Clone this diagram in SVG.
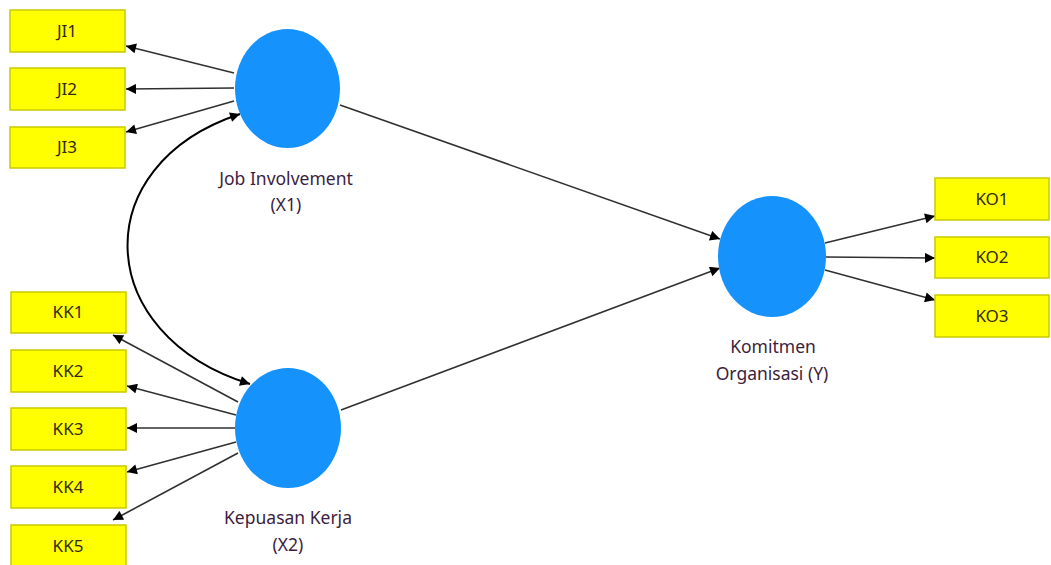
<svg xmlns="http://www.w3.org/2000/svg" width="1051" height="565" viewBox="0 0 1051 565">
<style>
.box{fill:#ffff00;stroke:#c9c900;stroke-width:1.5}
.bt{font-family:"Noto Sans","DejaVu Sans",sans-serif;font-size:17px;fill:#332a10;text-anchor:middle}
.lv{fill:#1592fc}
.lt{font-family:"Noto Sans","DejaVu Sans",sans-serif;font-size:17.5px;fill:#3c1e3e;text-anchor:middle}
.c{stroke:#303030;stroke-width:1.6;fill:none;marker-end:url(#a)}
.cv{stroke:#000;stroke-width:2;fill:none;marker-end:url(#a);marker-start:url(#s)}
</style>
<defs>
<marker id="a" viewBox="0 0 10 10" refX="10" refY="5" markerWidth="12" markerHeight="10" markerUnits="userSpaceOnUse" orient="auto"><path d="M0,0 L10,5 L0,10 z" fill="#000"/></marker>
<marker id="s" viewBox="0 0 10 10" refX="10" refY="5" markerWidth="12" markerHeight="10" markerUnits="userSpaceOnUse" orient="auto-start-reverse"><path d="M0,0 L10,5 L0,10 z" fill="#000"/></marker>
</defs>
<rect width="1051" height="565" fill="#fff"/>
<g id="connectors">
<line class="c" x1="234" y1="73" x2="126" y2="46"/>
<line class="c" x1="234" y1="88" x2="126" y2="89"/>
<line class="c" x1="234" y1="101" x2="126" y2="132"/>
<line class="c" x1="238" y1="402" x2="113" y2="335"/>
<line class="c" x1="236" y1="415" x2="127" y2="386"/>
<line class="c" x1="235" y1="428" x2="127" y2="428"/>
<line class="c" x1="236" y1="442" x2="127" y2="472"/>
<line class="c" x1="238" y1="453" x2="113" y2="520"/>
<line class="c" x1="825" y1="243" x2="935" y2="216"/>
<line class="c" x1="826" y1="257" x2="935" y2="258"/>
<line class="c" x1="825" y1="270" x2="935" y2="300"/>
<line class="c" x1="340" y1="105" x2="720" y2="239"/>
<line class="c" x1="341" y1="410" x2="720" y2="268"/>
<path class="cv" d="M240 114 C 85 165, 92 335, 250 384"/>
</g>
<g id="JI1"><rect class="box" x="10" y="10" width="115" height="42"/><text class="bt" x="67" y="37">JI1</text></g>
<g id="JI2"><rect class="box" x="10" y="68" width="115" height="42"/><text class="bt" x="67" y="95">JI2</text></g>
<g id="JI3"><rect class="box" x="10" y="127" width="115" height="41"/><text class="bt" x="67" y="153">JI3</text></g>
<g id="KK1"><rect class="box" x="11" y="292" width="115" height="41"/><text class="bt" x="68" y="318">KK1</text></g>
<g id="KK2"><rect class="box" x="11" y="350" width="115" height="42"/><text class="bt" x="68" y="377">KK2</text></g>
<g id="KK3"><rect class="box" x="11" y="408" width="115" height="42"/><text class="bt" x="68" y="435">KK3</text></g>
<g id="KK4"><rect class="box" x="11" y="466" width="115" height="42"/><text class="bt" x="68" y="493">KK4</text></g>
<g id="KK5"><rect class="box" x="11" y="525" width="115" height="42"/><text class="bt" x="68" y="552">KK5</text></g>
<g id="KO1"><rect class="box" x="935" y="178" width="114" height="42"/><text class="bt" x="992" y="205">KO1</text></g>
<g id="KO2"><rect class="box" x="935" y="237" width="114" height="41"/><text class="bt" x="992" y="263">KO2</text></g>
<g id="KO3"><rect class="box" x="935" y="295" width="114" height="42"/><text class="bt" x="992" y="322">KO3</text></g>
<g id="X1"><ellipse class="lv" cx="287.5" cy="88.5" rx="52.5" ry="59.5"/><text class="lt" x="286" y="185">Job Involvement</text><text class="lt" x="286" y="211">(X1)</text></g>
<g id="X2"><ellipse class="lv" cx="288" cy="428" rx="53" ry="60"/><text class="lt" x="288" y="524">Kepuasan Kerja</text><text class="lt" x="288" y="551">(X2)</text></g>
<g id="Y"><ellipse class="lv" cx="772" cy="256.5" rx="54" ry="60.5"/><text class="lt" x="773" y="353">Komitmen</text><text class="lt" x="772" y="380">Organisasi (Y)</text></g>
</svg>
